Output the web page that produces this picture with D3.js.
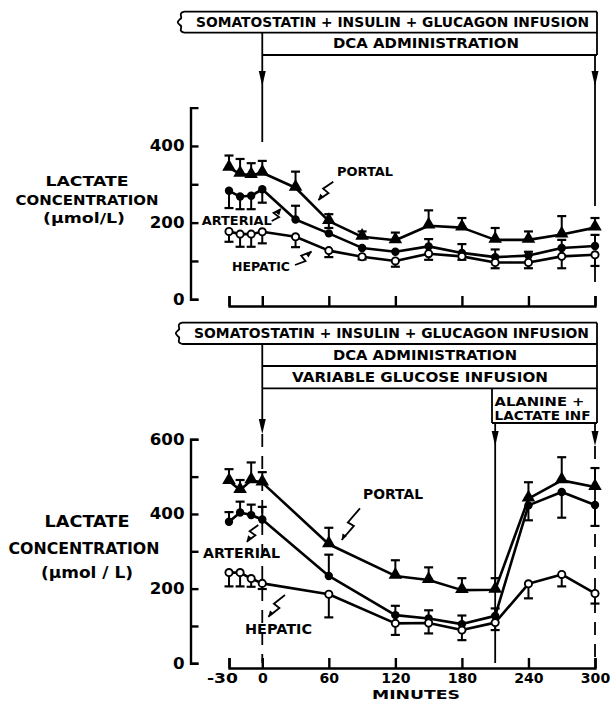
<!DOCTYPE html>
<html><head><meta charset="utf-8">
<script src="https://cdn.jsdelivr.net/npm/d3@7"></script>
<style>body{margin:0;background:#fff}svg{display:block}</style>
</head><body>
<svg id="c" width="614" height="703"></svg>
<script>
// ---------------- DATA ----------------
const xTickValues = [-30, 0, 60, 120, 180, 240, 300];
const xTickLabels = ["-30", "0", "60", "120", "180", "240", "300"];

// Upper panel (DCA)
const topMinutes = [-30, -20, -10, 0, 30, 60, 90, 120, 150, 180, 210, 240, 270, 300];
const topPortal   = [343, 327, 324, 330, 291, 204, 163, 154, 192, 187, 155, 155, 169, 187];
const topPortalUp = [32, 39, 31, 31, 42, 18, 14, 20, 40, 25, 31, 22, 48, 25];
const topPortalDn = [0, 0, 0, 0, 0, 18, 0, 0, 0, 0, 0, 0, 0, 0];
const topArterial   = [283, 268, 270, 287, 208, 172, 134, 124, 138, 121, 110, 114, 134, 139];
const topArterialUp = [0, 0, 0, 0, 36, 0, 0, 0, 19, 23, 20, 10, 21, 29];
const topArterialDn = [45, 33, 35, 35, 0, 0, 0, 0, 0, 0, 0, 0, 0, 0];
const topHepatic   = [177, 170, 170, 176, 163, 127, 111, 100, 119, 112, 96, 96, 112, 116];
const topHepaticDn = [27, 33, 33, 30, 27, 17, 7, 15, 16, 9, 15, 15, 31, 29];
const topYTicks = [0, 100, 200, 300, 400];

// Lower panel (DCA + alanine/lactate)
const botMinutes = [-30, -20, -10, 0, 60, 120, 150, 180, 210, 240, 270, 300];
const botPortal   = [488, 464, 490, 484, 319, 234, 223, 196, 197, 441, 490, 472];
const botPortalUp = [32, 27, 48, 28, 44, 42, 34, 32, 31, 44, 62, 51];
const botArterial   = [379, 404, 397, 385, 234, 129, 120, 105, 127, 423, 459, 424];
const botArterialUp = [26, 29, 28, 34, 57, 25, 22, 23, 20, 0, 0, 0];
const botArterialDn = [0, 0, 0, 0, 0, 0, 0, 0, 0, 40, 69, 56];
const botHepatic   = [243, 243, 227, 214, 185, 107, 108, 89, 109, 213, 238, 187];
const botHepaticDn = [37, 37, 22, 15, 62, 31, 28, 27, 20, 39, 32, 27];
const botYTicks = [0, 100, 200, 300, 400, 500, 600];

// ---------------- DRAW ----------------
const svg = d3.select("#c");
const FONT = "DejaVu Sans, Liberation Sans, sans-serif";
const SW = 2.4;

const x = d3.scaleLinear().domain([-30, 300]).range([229, 595]);
const yTop = d3.scaleLinear().domain([0, 500]).range([299.3, 107.6]);
const yBot = d3.scaleLinear().domain([0, 600]).range([663.3, 439.3]);

function txt(s, cx, cy, w, size, weight, anchor) {
  return svg.append("text").text(s)
    .attr("x", cx).attr("y", cy).attr("dy", "0.36em")
    .attr("text-anchor", anchor || "middle")
    .attr("font-family", FONT).attr("font-size", size)
    .attr("font-weight", weight || "bold")
    .attr("textLength", w).attr("lengthAdjust", "spacingAndGlyphs")
    .attr("fill", "#000");
}
function line(x1, y1, x2, y2, dash, w) {
  const l = svg.append("line").attr("x1", x1).attr("y1", y1).attr("x2", x2).attr("y2", y2)
    .attr("stroke", "#000").attr("stroke-width", w || 1.8);
  if (dash) l.attr("stroke-dasharray", dash);
  return l;
}
function arrowHead(xc, tip) {
  svg.append("path").attr("d", `M${xc - 3.5},${tip - 15} L${xc + 3.5},${tip - 15} L${xc},${tip} Z`).attr("fill", "#000");
}
function brace(xr, y0, y1) {
  const m = (y0 + y1) / 2;
  svg.append("path").attr("d",
    `M${xr + 4},${y0} C${xr - 3},${y0 + 2} ${xr + 4},${y0 + 6} ${xr},${m - 3} C${xr - 3},${m} ${xr - 3},${m} ${xr},${m + 3} C${xr + 4},${y1 - 6} ${xr - 3},${y1 - 2} ${xr + 4},${y1}`)
    .attr("fill", "none").attr("stroke", "#000").attr("stroke-width", 1.8);
}
function bolt(x0, y0, x1, y1) {
  const dx = x1 - x0, dy = y1 - y0, L = Math.hypot(dx, dy);
  const ux = dx / L, uy = dy / L, px = -uy, py = ux;
  const a = [x0 + dx * 0.5 + px * 3.5, y0 + dy * 0.5 + py * 3.5];
  const b = [x0 + dx * 0.5 - px * 3.5, y0 + dy * 0.5 - py * 3.5];
  svg.append("path").attr("d", `M${x0},${y0} L${a[0]},${a[1]} L${b[0]},${b[1]} L${x1},${y1}`)
    .attr("fill", "none").attr("stroke", "#000").attr("stroke-width", 1.8);
  svg.append("path").attr("d",
    `M${x1},${y1} L${x1 - ux * 6 + px * 2.5},${y1 - uy * 6 + py * 2.5} L${x1 - ux * 6 - px * 2.5},${y1 - uy * 6 - py * 2.5} Z`)
    .attr("fill", "#000");
}

function yAxis(scale, ticks) {
  const g = svg.append("g").attr("transform", "translate(190.5,0)")
    .call(d3.axisLeft(scale).tickValues(ticks).tickSizeInner(-8).tickSizeOuter(-8).tickPadding(6)
      .tickFormat(d => d % 200 === 0 ? d : ""));
  g.select(".domain").attr("stroke-width", SW);
  g.selectAll(".tick line").attr("stroke-width", SW);
  g.selectAll("text").attr("font-family", FONT).attr("font-size", 15).attr("font-weight", "bold")
    .attr("lengthAdjust", "spacingAndGlyphs")
    .attr("textLength", function () { return this.textContent.length * 11.6; });
}
function xAxis(y0, labels) {
  const g = svg.append("g").attr("transform", `translate(0,${y0})`)
    .call(d3.axisBottom(x).tickValues(xTickValues).tickSizeInner(-10).tickSizeOuter(-10).tickPadding(5)
      .tickFormat((d, i) => labels ? xTickLabels[i] : ""));
  g.select(".domain").attr("stroke-width", SW);
  g.selectAll(".tick line").attr("stroke-width", SW);
  if (labels) {
    g.selectAll("text").attr("font-family", FONT).attr("font-size", 13.5).attr("font-weight", "bold")
      .attr("lengthAdjust", "spacingAndGlyphs")
      .attr("textLength", function () { const s = this.textContent; return s === "-30" ? 31 : s.length * 9.8; })
      .attr("dx", function () { return this.textContent === "-30" ? -7 : 0; });
  }
}

function series(mins, vals, up, dn, y) {
  const pts = mins.map((m, i) => ({ m, v: vals[i], up: up ? up[i] : 0, dn: dn ? dn[i] : 0 }));
  svg.append("path").datum(pts)
    .attr("d", d3.line().x(d => x(d.m)).y(d => y(d.v)))
    .attr("fill", "none").attr("stroke", "#000").attr("stroke-width", 2.6).attr("stroke-linejoin", "round");
  pts.forEach(p => {
    [[p.up, 1], [p.dn, -1]].forEach(([e, s]) => {
      if (!e) return;
      const yy = y(p.v + s * e);
      line(x(p.m), y(p.v), x(p.m), yy, null, 2);
      line(x(p.m) - 4.5, yy, x(p.m) + 4.5, yy, null, 2.2);
    });
  });
  return pts;
}
function markers(pts, y, kind) {
  pts.forEach(p => {
    if (kind === "tri") {
      svg.append("path").attr("d", d3.symbol(d3.symbolTriangle, 80)())
        .attr("transform", `translate(${x(p.m)},${y(p.v) - 1})`).attr("fill", "#000");
    } else if (kind === "dot") {
      svg.append("circle").attr("cx", x(p.m)).attr("cy", y(p.v)).attr("r", 4.2).attr("fill", "#000");
    } else {
      svg.append("circle").attr("cx", x(p.m)).attr("cy", y(p.v)).attr("r", 3.6)
        .attr("fill", "#fff").attr("stroke", "#000").attr("stroke-width", 1.9);
    }
  });
}

// ===== Upper panel header =====
const x0 = x(0), x300 = x(300), x210 = x(210);
brace(180, 11.7, 32.7);
line(184, 11.7, 597, 11.7); line(184, 32.7, 597, 32.7);
line(597, 11.7, 597, 55); line(x0, 32.7, x0, 55); line(x0, 55, 597, 55);
txt("SOMATOSTATIN + INSULIN + GLUCAGON INFUSION", 392.5, 22.4, 393, 13.5);
txt("DCA ADMINISTRATION", 426, 43.6, 186, 13.5);
line(x0, 55, x0, 142); arrowHead(x0, 86);
line(x300, 55, x300, 206); arrowHead(x300, 86);
line(x300, 264, x300, 282);

// Upper panel axes
yAxis(yTop, topYTicks);
xAxis(306, false);

// Upper panel series
const tp = series(topMinutes, topPortal, topPortalUp, topPortalDn, yTop);
const ta = series(topMinutes, topArterial, topArterialUp, topArterialDn, yTop);
const th = series(topMinutes, topHepatic, null, topHepaticDn, yTop);
markers(tp, yTop, "tri"); markers(ta, yTop, "dot"); markers(th, yTop, "open");

// Upper panel labels
txt("LACTATE", 87, 181, 83, 14.5, "bold");
txt("CONCENTRATION", 87, 199.5, 143, 14.5, "bold");
txt("(\u03bcmol/L)", 84, 217.5, 82, 14.5, "bold");
txt("PORTAL", 365, 171.7, 56, 12.5);
txt("ARTERIAL", 236.7, 220, 70, 12.5);
txt("HEPATIC", 261, 266.7, 58, 12.5);
bolt(333.3, 181.7, 318.3, 200);
bolt(271.7, 221, 281, 209);
bolt(295, 265, 311.7, 251.7);

// ===== Lower panel header =====
brace(178, 322.7, 344);
line(182, 322.7, 597, 322.7); line(182, 344, 597, 344);
line(597, 322.7, 597, 423); line(x0, 344, x0, 366);
line(x0, 366, 597, 366); line(x0, 388.3, 597, 388.3);
line(x0, 366, x0, 388.3);
line(492, 388.3, 492, 423); line(492, 423, 597, 423);
txt("SOMATOSTATIN + INSULIN + GLUCAGON INFUSION", 391.5, 333.3, 395, 13.5);
txt("DCA ADMINISTRATION", 425, 355.2, 184, 13.5);
txt("VARIABLE GLUCOSE INFUSION", 420, 377.4, 256, 13.5);
txt("ALANINE +", 494.5, 401, 90, 12.5, "bold", "start");
txt("LACTATE INF", 494.5, 415, 96, 12.5, "bold", "start");

line(x0, 388.3, x0, 420); arrowHead(x0, 434);
line(x0, 434, x0, 663, "13,9");
line(x210, 423, x210, 663); arrowHead(x210, 446);
line(x300, 423, x300, 432); arrowHead(x300, 446);
line(x300, 446, x300, 663, "13,9");

// Lower panel axes
yAxis(yBot, botYTicks);
xAxis(668, true);

// Lower panel series
const bp = series(botMinutes, botPortal, botPortalUp, null, yBot);
const ba = series(botMinutes, botArterial, botArterialUp, botArterialDn, yBot);
const bh = series(botMinutes, botHepatic, null, botHepaticDn, yBot);
markers(bp, yBot, "tri"); markers(ba, yBot, "dot"); markers(bh, yBot, "open");

// Lower panel labels
txt("LACTATE", 87, 522, 85, 15, "bold");
txt("CONCENTRATION", 84, 549, 151, 15, "bold");
txt("(\u03bcmol / L)", 87, 573, 92, 15, "bold");
txt("PORTAL", 393, 494, 60, 13.5);
txt("ARTERIAL", 241.5, 553, 77, 13.5);
txt("HEPATIC", 278.5, 629, 67, 13.5);
bolt(360, 508.3, 341.7, 540);
bolt(258.3, 525, 246.7, 541.7);
bolt(285, 595, 268.3, 616.7);
txt("MINUTES", 416, 694.5, 88, 13);
</script>
</body></html>
